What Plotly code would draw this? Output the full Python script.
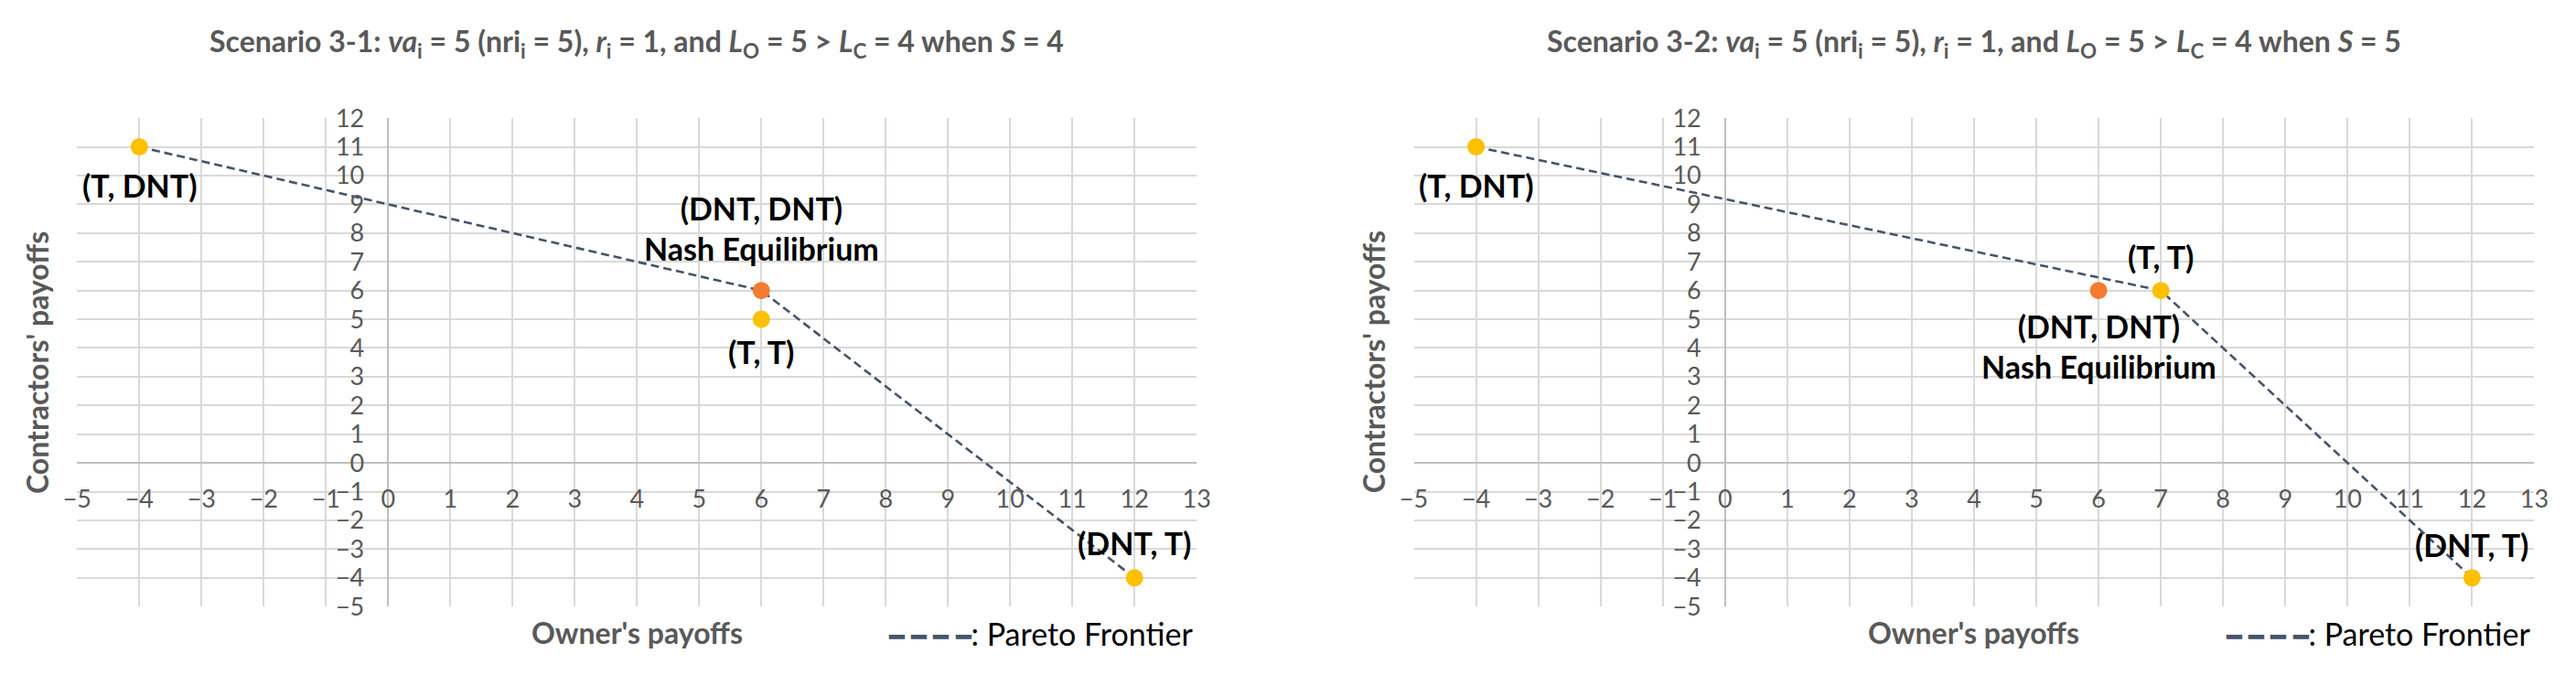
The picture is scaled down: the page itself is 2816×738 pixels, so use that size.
import plotly.graph_objects as go

W, H = 2816, 738

# ---- data ----
x_tick_vals = list(range(-5, 14))
y_tick_vals = list(range(-5, 13))
x_range = [-5, 13]
y_range = [-5, 12]

titles = [
    "Scenario 3-1: <i>va</i><sub>i</sub> = 5 (nri<sub>i</sub> = 5), <i>r</i><sub>i</sub> = 1, and "
    "<i>L</i><sub>O</sub> = 5 > <i>L</i><sub>C</sub> = 4 when <i>S</i> = 4",
    "Scenario 3-2: <i>va</i><sub>i</sub> = 5 (nri<sub>i</sub> = 5), <i>r</i><sub>i</sub> = 1, and "
    "<i>L</i><sub>O</sub> = 5 > <i>L</i><sub>C</sub> = 4 when <i>S</i> = 5",
]
x_title = "Owner's payoffs"
y_title = "Contractors' payoffs"
legend_text = ": Pareto Frontier"

# Scenario 3-1
s1_labels = ["(T, DNT)", "(DNT, DNT)<br>Nash Equilibrium", "(T, T)", "(DNT, T)"]
s1_owner = [-4, 6, 6, 12]
s1_contr = [11, 6, 5, -4]
s1_kind = ["other", "nash", "other", "other"]
s1_pareto_owner = [-4, 6, 12]
s1_pareto_contr = [11, 6, -4]

# Scenario 3-2
s2_labels = ["(T, DNT)", "(T, T)", "(DNT, DNT)<br>Nash Equilibrium", "(DNT, T)"]
s2_owner = [-4, 7, 6, 12]
s2_contr = [11, 6, 6, -4]
s2_kind = ["other", "other", "nash", "other"]
s2_pareto_owner = [-4, 7, 12]
s2_pareto_contr = [11, 6, -4]

# ---- styling ----
FONT = "Lato"
GREY = "#595959"
YELLOW = "#FFC000"
ORANGE = "#F47B2F"
LINE = "#44546A"
GRID = "#D9D9D9"
AXIS = "#BFBFBF"
kind_color = {"other": YELLOW, "nash": ORANGE}

# label placement: (yshift px, yanchor)
s1_place = [(-42, "middle"), (24, "bottom"), (-35, "middle"), (38, "middle")]
s2_place = [(-42, "middle"), (37, "middle"), (-16, "top"), (36, "middle")]

x_domains = [[61 / W, 1299 / W], [1539 / W, 2778 / W]]
y_domain = [1 - 667 / H, 1 - 108 / H]

fig = go.Figure()

scen = [
    (s1_owner, s1_contr, s1_kind, s1_labels, s1_place, s1_pareto_owner, s1_pareto_contr),
    (s2_owner, s2_contr, s2_kind, s2_labels, s2_place, s2_pareto_owner, s2_pareto_contr),
]

annotations = []
for i, (ox, cy, kind, labels, place, px, py) in enumerate(scen):
    xa = "x" if i == 0 else "x2"
    ya = "y" if i == 0 else "y2"
    fig.add_trace(go.Scatter(
        x=px, y=py, mode="lines", xaxis=xa, yaxis=ya,
        line=dict(color=LINE, width=2.6, dash="9px,5px"), showlegend=False,
        hoverinfo="skip",
    ))
    fig.add_trace(go.Scatter(
        x=ox, y=cy, mode="markers", xaxis=xa, yaxis=ya,
        marker=dict(size=19, color=[kind_color[k] for k in kind]),
        showlegend=False,
    ))
    for xv, yv, lab, (ys, yanc) in zip(ox, cy, labels, place):
        annotations.append(dict(
            x=xv, y=yv, xref=xa, yref=ya, text=lab, showarrow=False,
            yshift=ys, yanchor=yanc, xanchor="center",
            font=dict(family=FONT, size=34, color="black", weight="bold"),
        ))
    xd = x_domains[i]
    cx = (xd[0] + xd[1]) / 2
    # title
    annotations.append(dict(
        x=cx, y=1 - 22 / H, xref="paper", yref="paper", text="<b>" + titles[i] + "</b>",
        showarrow=False, xanchor="center", yanchor="middle",
        font=dict(family=FONT, size=32, color=GREY),
    ))
    # x axis title
    annotations.append(dict(
        x=cx, y=1 - 697 / H, xref="paper", yref="paper", text="<b>" + x_title + "</b>",
        showarrow=False, xanchor="center", yanchor="middle",
        font=dict(family=FONT, size=32, color=GREY),
    ))
    # y axis title
    annotations.append(dict(
        x=xd[0] - 45 / W, y=(y_domain[0] + y_domain[1]) / 2, xref="paper", yref="paper",
        text="<b>" + y_title + "</b>", textangle=-90,
        showarrow=False, xanchor="center", yanchor="middle",
        font=dict(family=FONT, size=32, color=GREY),
    ))
    # legend-like key
    annotations.append(dict(
        x=xd[1] - 2 / W, y=1 - 698 / H, xref="paper", yref="paper",
        text="<span style='color:%s;font-size:28px'>━ ━ ━ ━</span>%s" % (LINE, legend_text),
        showarrow=False, xanchor="right", yanchor="middle",
        font=dict(family=FONT, size=34, color="black"),
    ))

def zero_pos(dom, rng):
    return dom[0] + (0 - rng[0]) / (rng[1] - rng[0]) * (dom[1] - dom[0])

layout = dict(
    width=W, height=H, margin=dict(l=0, r=0, t=0, b=0),
    paper_bgcolor="white", plot_bgcolor="white",
    font=dict(family=FONT, color=GREY),
    annotations=annotations,
)
for i in range(2):
    sx = "" if i == 0 else "2"
    layout["xaxis" + sx] = dict(
        domain=x_domains[i], range=x_range, tickvals=x_tick_vals,
        anchor="free", position=zero_pos(y_domain, y_range),
        showgrid=True, gridcolor=GRID, gridwidth=2,
        zeroline=True, zerolinecolor=AXIS, zerolinewidth=2,
        showline=False, ticks="", ticklabelstandoff=21,
        tickfont=dict(family=FONT, size=27, color=GREY),
    )
    layout["yaxis" + sx] = dict(
        domain=y_domain, range=y_range, tickvals=y_tick_vals,
        anchor="free", position=zero_pos(x_domains[i], x_range),
        showgrid=True, gridcolor=GRID, gridwidth=2,
        zeroline=True, zerolinecolor=AXIS, zerolinewidth=2,
        showline=False, ticks="", ticklabelstandoff=26,
        tickfont=dict(family=FONT, size=27, color=GREY),
    )
fig.update_layout(**layout)

fig.write_html("out.html")
